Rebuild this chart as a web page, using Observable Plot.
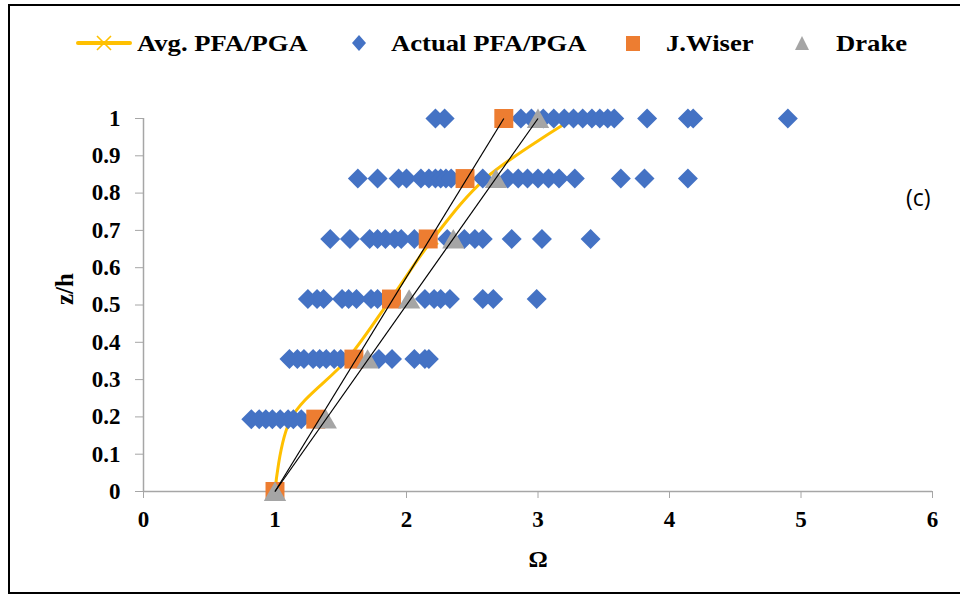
<!DOCTYPE html>
<html>
<head>
<meta charset="utf-8">
<script src="https://cdn.jsdelivr.net/npm/d3@7"></script>
<script src="https://cdn.jsdelivr.net/npm/@observablehq/plot@0.6"></script>
<style>
  body { margin: 0; background: #fff; }
  #wrap { position: relative; width: 960px; height: 594px; overflow: hidden;
          font-family: "Liberation Serif", "Times New Roman", serif; }
  #border { position: absolute; left: 8px; top: 4px; width: 960px; height: 590px;
            border: 2px solid #000; border-right: none; box-sizing: border-box; }
  #chart { position: absolute; left: 0; top: 0; }
  .leg { position: absolute; top: 30px; font-weight: bold; font-size: 24px; line-height: 26px; color: #000;
         white-space: nowrap; transform: scaleX(1.11); transform-origin: left center; }
  .icon { position: absolute; }
  #tag { position: absolute; left: 906px; top: 181px; font-family: "Open Sans", "Liberation Sans", sans-serif; font-size: 23px; }
</style>
</head>
<body>
<div id="wrap">
  <div id="border"></div>
  <div id="chart"></div>
  <svg class="icon" style="left:76px;top:33px" width="56" height="20">
    <line x1="2" y1="10" x2="54" y2="10" stroke="#FFC000" stroke-width="4" stroke-linecap="round"/>
    <path d="M21,3 L35,17 M35,3 L21,17" stroke="#FFC000" stroke-width="1.6"/>
  </svg>
  <div class="leg" style="left:137px">Avg. PFA/PGA</div>
  <svg class="icon" style="left:350px;top:34px" width="18" height="18">
    <path d="M9,1 L16,9 L9,17 L2,9 Z" fill="#4472C4"/>
  </svg>
  <div class="leg" style="left:391px">Actual PFA/PGA</div>
  <svg class="icon" style="left:625px;top:35px" width="16" height="16">
    <rect x="1" y="1" width="14" height="15" fill="#ED7D31"/>
  </svg>
  <div class="leg" style="left:666px">J.Wiser</div>
  <svg class="icon" style="left:794px;top:35px" width="16" height="16">
    <path d="M8,1 L15,15 L1,15 Z" fill="#A5A5A5"/>
  </svg>
  <div class="leg" style="left:836px">Drake</div>
  <div id="tag">(c)</div>
</div>
<script>
// Normalised storey heights z/h
const levels = [0, 0.194, 0.355, 0.516, 0.677, 0.839, 1.0];

// Measured PFA/PGA amplification (Ω) at each floor level
const actualL1 = [0.82, 0.88, 0.93, 0.98, 1.04, 1.10, 1.14, 1.20];
const actualL2 = [1.11, 1.17, 1.22, 1.29, 1.34, 1.39, 1.45, 1.50, 1.79, 1.89, 2.06, 2.14, 2.17];
const actualL3 = [1.25, 1.32, 1.37, 1.51, 1.56, 1.62, 1.73, 1.78, 2.14, 2.21, 2.26, 2.33, 2.58, 2.66, 2.99];
const actualL4 = [1.42, 1.57, 1.72, 1.78, 1.84, 1.91, 1.96, 2.06, 2.31, 2.44, 2.52, 2.58, 2.80, 3.03, 3.40];
const actualL5 = [1.63, 1.78, 1.94, 2.00, 2.11, 2.17, 2.22, 2.26, 2.30, 2.34, 2.58, 2.77, 2.85, 2.92, 3.00, 3.08, 3.16, 3.28, 3.63, 3.81, 4.14];
const actualL6 = [2.22, 2.29, 2.87, 2.95, 3.04, 3.12, 3.20, 3.27, 3.34, 3.41, 3.47, 3.53, 3.58, 3.83, 4.14, 4.18, 4.90];

// Average profile and code-based predictions
const avgOmega   = [1.00, 1.12, 1.55, 1.88, 2.20, 2.60, 3.27];
const wiserOmega = [1.00, 1.31, 1.60, 1.886, 2.165, 2.445, 2.74];
const drakeOmega = [1.00, 1.386, 1.704, 2.02, 2.356, 2.68, 3.00];

const xTicks = [0, 1, 2, 3, 4, 5, 6];
const yTicks = [0, 0.1, 0.2, 0.3, 0.4, 0.5, 0.6, 0.7, 0.8, 0.9, 1];

const actualRows = [actualL1, actualL2, actualL3, actualL4, actualL5, actualL6];
const actual = actualRows.flatMap((row, i) => row.map(v => ({omega: v, z: levels[i + 1]})));
const avg = levels.map((z, i) => ({omega: avgOmega[i], z}));
const wiser = levels.map((z, i) => ({omega: wiserOmega[i], z}));
const drake = levels.map((z, i) => ({omega: drakeOmega[i], z}));
// straight lines from base to roof for each prediction
const fits = [wiser, drake].map(s => ({x1: s[0].omega, y1: s[0].z, x2: s[s.length - 1].omega, y2: s[s.length - 1].z}));

const axisGray = "#A6A6A6";
const font = {fontFamily: "Liberation Serif, Times New Roman, serif", fontSize: 23, fontWeight: "bold"};

const chart = Plot.plot({
  width: 960,
  height: 594,
  marginLeft: 143,
  marginRight: 28,
  marginTop: 118,
  marginBottom: 103,
  style: {background: "transparent", ...font, color: "#000"},
  x: {domain: [0, 6]},
  y: {domain: [0, 1]},
  marks: [
    Plot.ruleY([0], {stroke: axisGray, strokeWidth: 1.5}),
    Plot.ruleX([0], {stroke: axisGray, strokeWidth: 1.5}),
    Plot.axisX(xTicks, {tickSize: 7, tickPadding: 12, stroke: axisGray, fill: "#000", label: null,
      tickFormat: d => String(d), ...font}),
    Plot.axisY(yTicks, {tickSize: 8, tickPadding: 15, stroke: axisGray, fill: "#000", label: null,
      tickFormat: d => String(+d.toFixed(1)), ...font}),
    Plot.text(["Ω"], {frameAnchor: "bottom", dy: 75, ...font, fontSize: 24}),
    Plot.text(["z/h"], {frameAnchor: "left", dx: -79, rotate: -90, ...font, fontSize: 25}),
    Plot.line(avg, {x: "omega", y: "z", stroke: "#FFC000", strokeWidth: 3, curve: "catmull-rom"}),
    Plot.dot(avg, {x: "omega", y: "z", symbol: "times", r: 5, stroke: "#FFC000", strokeWidth: 1.5}),
    Plot.dot(actual, {x: "omega", y: "z", symbol: "diamond2", r: 9, fill: "#4472C4"}),
    Plot.dot(wiser, {x: "omega", y: "z", symbol: "square", r: 10.7, fill: "#ED7D31"}),
    Plot.dot(drake, {x: "omega", y: "z", symbol: "triangle", r: 8.3, dy: 3, fill: "#A5A5A5"}),
    Plot.link(fits, {x1: "x1", y1: "y1", x2: "x2", y2: "y2", stroke: "#000", strokeWidth: 1.2})
  ]
});
document.getElementById("chart").appendChild(chart);
</script>
</body>
</html>
